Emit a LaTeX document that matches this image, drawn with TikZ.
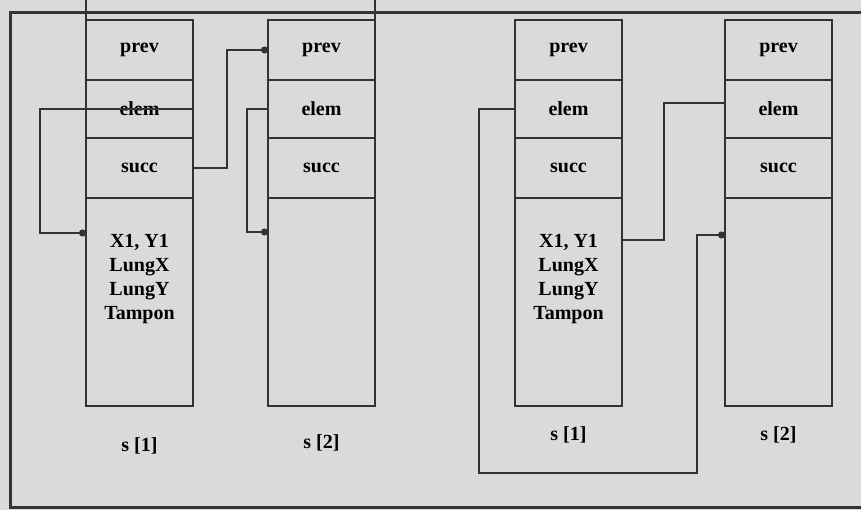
\documentclass[tikz,border=0pt]{standalone}
\usepackage{fontspec}
\setmainfont{Liberation Serif}
\usetikzlibrary{arrows.meta,positioning}
\definecolor{paper}{HTML}{DADADA}
\definecolor{ink}{HTML}{333333}

\begin{document}
\begin{tikzpicture}[
  x=1pt, y=-1pt,
  font=\bfseries\fontsize{20}{24}\selectfont,
  cell/.style={draw=ink, line width=2.2pt, minimum width=107pt, inner sep=0pt, outer sep=0pt},
  fields/.style={align=center, inner sep=0pt, anchor=north},
  recname/.style={inner sep=0pt},
  link/.style={draw=ink, line width=2pt, -{Circle[length=7pt]}},
  plain/.style={draw=ink, line width=2pt}
]
\useasboundingbox[fill=paper] (0,0) rectangle (861,510);
\draw[ink, line width=3pt] (861,13) -- (10,13) -- (10,507) -- (861,507);

% first pair of records
\node[cell, minimum height=60pt, anchor=north west] (a1prev) at (86,20) {prev};
\node[cell, minimum height=58pt, below=0pt of a1prev] (a1elem) {elem};
\node[cell, minimum height=60pt, below=0pt of a1elem] (a1succ) {succ};
\node[cell, minimum height=208pt, below=0pt of a1succ] (a1data) {};
\node[fields] (a1text) at ([yshift=-36pt]a1data.north) {X1, Y1\\LungX\\LungY\\Tampon};
\node[recname, below=31pt of a1data] (a1name) {s [1]};

\node[cell, minimum height=60pt, anchor=north west] (a2prev) at (268,20) {prev};
\node[cell, minimum height=58pt, below=0pt of a2prev] (a2elem) {elem};
\node[cell, minimum height=60pt, below=0pt of a2elem] (a2succ) {succ};
\node[cell, minimum height=208pt, below=0pt of a2succ] (a2data) {};
\node[recname, below=28pt of a2data] (a2name) {s [2]};

\draw[plain] (a1prev.north west) -- ++(0,20pt);
\draw[plain] (a2prev.north east) -- ++(0,20pt);

\draw[link] (a1elem.east) -- ++(-153pt,0) |- ([yshift=-35pt]a1data.north west);
\draw[link] (a1succ.east) -- ++(34pt,0) |- (a2prev.west);
\draw[link] (a2elem.west) -- ++(-21pt,0) |- ([yshift=-34pt]a2data.north west);

% second pair of records
\node[cell, minimum height=60pt, anchor=north west] (b1prev) at (515,20) {prev};
\node[cell, minimum height=58pt, below=0pt of b1prev] (b1elem) {elem};
\node[cell, minimum height=60pt, below=0pt of b1elem] (b1succ) {succ};
\node[cell, minimum height=208pt, below=0pt of b1succ] (b1data) {};
\node[fields] (b1text) at ([yshift=-36pt]b1data.north) {X1, Y1\\LungX\\LungY\\Tampon};
\node[recname, below=20pt of b1data] (b1name) {s [1]};

\node[cell, minimum height=60pt, anchor=north west] (b2prev) at (725,20) {prev};
\node[cell, minimum height=58pt, below=0pt of b2prev] (b2elem) {elem};
\node[cell, minimum height=60pt, below=0pt of b2elem] (b2succ) {succ};
\node[cell, minimum height=208pt, below=0pt of b2succ] (b2data) {};
\node[recname, below=20pt of b2data] (b2name) {s [2]};

\draw[link] (b1elem.west) -- ++(-36pt,0) |- ([xshift=-28pt,yshift=-67pt]b2data.south west)
  |- ([yshift=-37pt]b2data.north west);
\draw[plain] ([yshift=-42pt]b1data.north east) -- ++(42pt,0) |- ([yshift=6pt]b2elem.west);
\end{tikzpicture}
\end{document}
